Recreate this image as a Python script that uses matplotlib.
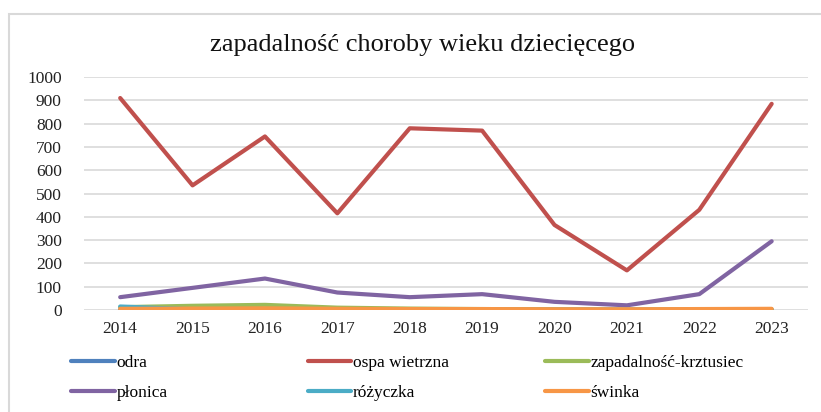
import matplotlib
matplotlib.use("Agg")
import matplotlib.pyplot as plt
from matplotlib.patches import Rectangle

plt.rcParams['font.family'] = 'serif'
plt.rcParams['font.serif'] = ['Liberation Serif', 'DejaVu Serif']

years = ['2014', '2015', '2016', '2017', '2018', '2019', '2020', '2021', '2022', '2023']
odra = [1, 0, 0, 0, 0, 0, 0, 0, 0, 0]
ospa_wietrzna = [910, 535, 745, 415, 780, 770, 365, 170, 430, 885]
krztusiec = [12, 18, 22, 10, 6, 4, 3, 2, 2, 3]
plonica = [55, 95, 135, 75, 55, 68, 35, 20, 68, 295]
rozyczka = [15, 3, 2, 2, 1, 1, 1, 1, 1, 1]
swinka = [5, 6, 7, 5, 4, 4, 3, 3, 4, 5]

series = [
    ('odra', odra, '#4F81BD'),
    ('ospa wietrzna', ospa_wietrzna, '#C0504D'),
    ('zapadalność-krztusiec', krztusiec, '#9BBB59'),
    ('płonica', plonica, '#8064A2'),
    ('różyczka', rozyczka, '#4BACC6'),
    ('świnka', swinka, '#F79646'),
]

fig = plt.figure(figsize=(8.21, 4.12), dpi=100)
ax = fig.add_axes([0.1023, 0.2476, 0.8817, 0.5654])

x = range(len(years))
handles = {}
for name, vals, col in series:
    ln, = ax.plot(x, vals, color=col, linewidth=3, solid_capstyle='round', label=name)
    handles[name] = ln

ax.set_xlim(-0.5, len(years) - 0.5)
ax.set_ylim(0, 1000)
ax.set_yticks(range(0, 1001, 100))
ax.set_xticks(list(x))
ax.set_xticklabels(years)
ax.tick_params(axis='both', length=0, labelsize=12.5, colors='#222222')
ax.tick_params(axis='y', pad=16)
ax.tick_params(axis='x', pad=8)
ax.grid(axis='y', color='#d9d9d9', linewidth=1.2)
ax.set_axisbelow(True)
for s in ax.spines.values():
    s.set_visible(False)

fig.text(0.515, 0.89, 'zapadalność choroby wieku dziecięcego', ha='center', va='center',
         fontsize=19, color='#111111')

# outer chart border
fig.patches.append(Rectangle((0.011, -0.1), 1.1, 1.065, transform=fig.transFigure,
                             fill=False, edgecolor='#d9d9d9', linewidth=1.5))

# legend: three columns of two entries
cols = [('odra', 'płonica'), ('ospa wietrzna', 'różyczka'), ('zapadalność-krztusiec', 'świnka')]
xs = [0.087, 0.375, 0.664]
for cx, pair in zip(xs, cols):
    fig.legend([handles[n] for n in pair], list(pair), loc='upper left',
               bbox_to_anchor=(cx, 0.138), frameon=False, fontsize=12.5,
               handlelength=2.5, handletextpad=0.1, labelspacing=0.8,
               borderaxespad=0, borderpad=0)

fig.savefig('out.png', dpi=100)
